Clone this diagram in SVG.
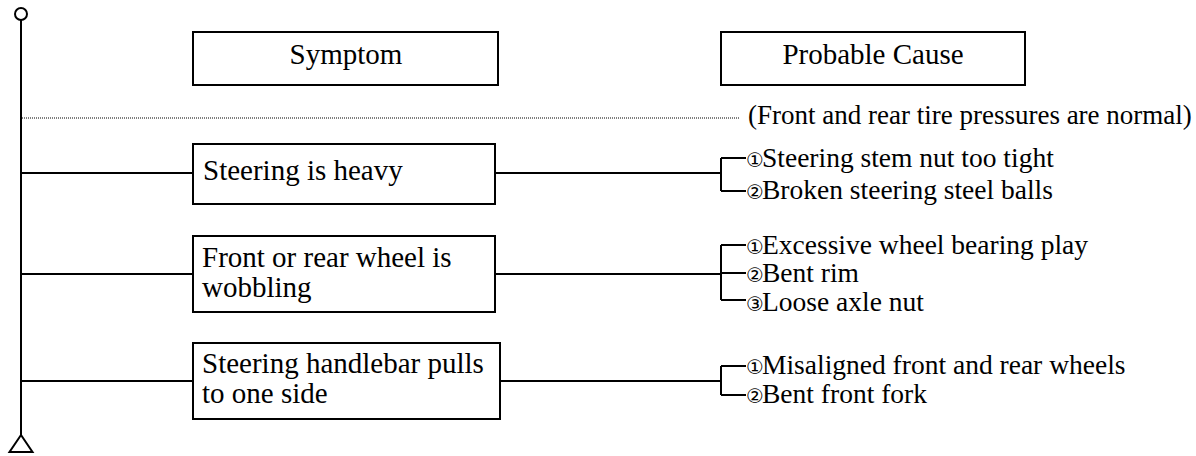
<svg xmlns="http://www.w3.org/2000/svg" width="1196" height="456" viewBox="0 0 1196 456">
<rect width="1196" height="456" fill="#fff"/>
<g id="connectors" fill="none" stroke="#000" stroke-width="2">
<circle cx="21" cy="14" r="6" fill="#fff"/>
<line x1="21" y1="20" x2="21" y2="435"/>
<polygon points="21,435 9.5,452 32.5,452" fill="#fff"/>
<line x1="22" y1="118" x2="740" y2="118" stroke-width="1" stroke-dasharray="1 1"/>
<path d="M21 173H193M495 173H721M721 158V191M721 158H746M721 191H746"/>
<path d="M21 274H193M495 274H721M721 245V300M721 245H746M721 273H746M721 300H746"/>
<path d="M21 381H193M500 381H721M721 366V395M721 366H746M721 395H746"/>
</g>
<g id="header-symptom"><rect x="193" y="32" width="305" height="53" fill="#fff" stroke="#000" stroke-width="2"/><text x="346" y="64" text-anchor="middle" font-family="Liberation Serif" font-size="29">Symptom</text></g>
<g id="header-cause"><rect x="721" y="32" width="304" height="53" fill="#fff" stroke="#000" stroke-width="2"/><text x="873" y="64" text-anchor="middle" font-family="Liberation Serif" font-size="29">Probable Cause</text></g>
<g id="s1"><rect x="193" y="144" width="302" height="60" fill="#fff" stroke="#000" stroke-width="2"/><text x="203" y="180" font-family="Liberation Serif" font-size="29">Steering is heavy</text></g>
<g id="s2"><rect x="193" y="236" width="302" height="76" fill="#fff" stroke="#000" stroke-width="2"/><text x="202" y="267" font-family="Liberation Serif" font-size="29">Front or rear wheel is</text><text x="202" y="297" font-family="Liberation Serif" font-size="29">wobbling</text></g>
<g id="s3"><rect x="193" y="343" width="307" height="76" fill="#fff" stroke="#000" stroke-width="2"/><text x="202" y="373" font-family="Liberation Serif" font-size="29">Steering handlebar pulls</text><text x="202" y="403" font-family="Liberation Serif" font-size="29">to one side</text></g>
<g id="note"><text x="748" y="124" font-family="Liberation Serif" font-size="27">(Front and rear tire pressures are normal)</text></g>
<g id="c1"><text x="746" y="167" font-family="Liberation Serif" font-size="27.5"><tspan font-family="DejaVu Sans" font-size="20">①</tspan><tspan x="762">Steering stem nut too tight</tspan></text><text x="746" y="199" font-family="Liberation Serif" font-size="27.5"><tspan font-family="DejaVu Sans" font-size="20">②</tspan><tspan x="762">Broken steering steel balls</tspan></text></g>
<g id="c2"><text x="746" y="254" font-family="Liberation Serif" font-size="27.5"><tspan font-family="DejaVu Sans" font-size="20">①</tspan><tspan x="762">Excessive wheel bearing play</tspan></text><text x="746" y="282" font-family="Liberation Serif" font-size="27.5"><tspan font-family="DejaVu Sans" font-size="20">②</tspan><tspan x="762">Bent rim</tspan></text><text x="746" y="311" font-family="Liberation Serif" font-size="27.5"><tspan font-family="DejaVu Sans" font-size="20">③</tspan><tspan x="762">Loose axle nut</tspan></text></g>
<g id="c3"><text x="746" y="374" font-family="Liberation Serif" font-size="27.5"><tspan font-family="DejaVu Sans" font-size="20">①</tspan><tspan x="762">Misaligned front and rear wheels</tspan></text><text x="746" y="403" font-family="Liberation Serif" font-size="27.5"><tspan font-family="DejaVu Sans" font-size="20">②</tspan><tspan x="762">Bent front fork</tspan></text></g>
</svg>
